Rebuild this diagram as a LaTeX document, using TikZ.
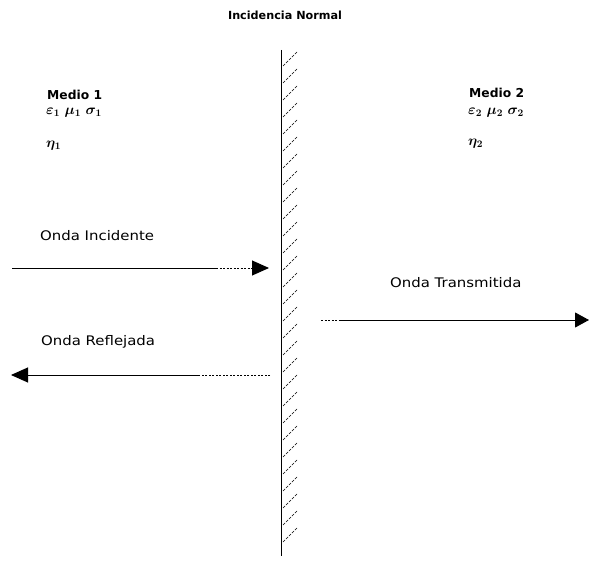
\documentclass[tikz,border=0pt]{standalone}
\usepackage{fontspec}
\setsansfont{DejaVu Sans}
\newfontfamily\widesans[FakeStretch=1.13]{DejaVu Sans}
\usetikzlibrary{arrows.meta}
\tikzset{
  lbl/.style={font=\widesans\fontsize{13.2}{15}\selectfont, inner sep=0pt, anchor=west},
  lblb/.style={font=\sffamily\bfseries\fontsize{12.3}{14}\selectfont, inner sep=0pt, anchor=west},
  greek/.style={font=\boldmath\fontsize{14.5}{16}\selectfont, inner sep=0pt, anchor=west},
  wave/.style={line width=0.9pt},
  fade/.style={line width=0.9pt, dash pattern=on 2pt off 1.5pt},
  tip/.style={-{Triangle[length=17pt,width=15pt]}},
  wall/.style={line width=1pt},
  hatch/.style={line width=0.5pt, dash pattern=on 3pt off 1.2pt}
}
\begin{document}
\begin{tikzpicture}[x=1pt,y=-1pt]
\useasboundingbox (0,0) rectangle (589,561);
% title
\node[font=\sffamily\bfseries\fontsize{11.2}{13}\selectfont, inner sep=0pt] (title) at (285,15) {Incidencia Normal};
% wall
\coordinate (wtop) at (281,50);
\coordinate (wbot) at (281,556);
\draw[wall] (wtop) -- (wbot);
\foreach \y in {52,69,...,540} {
  \draw[hatch] (283,\y+14) -- (297,\y);
}
% medium 1
\node[lblb] (m1) at (47,95) {Medio 1};
\node[greek] (p1) at (46,113) {$\varepsilon_1\;\mu_1\;\sigma_1$};
\node[greek] (eta1) at (46,146) {$\eta_1$};
% medium 2
\node[lblb] (m2) at (469,93) {Medio 2};
\node[greek] (p2) at (468,113) {$\varepsilon_2\;\mu_2\;\sigma_2$};
\node[greek] (eta2) at (468,144) {$\eta_2$};
% incident
\node[lbl] (linc) at (40,236) {Onda Incidente};
\coordinate (i0) at (12,268);
\coordinate (i1) at (216,268);
\coordinate (i2) at (269,268);
\draw[wave] (i0) -- (i1);
\draw[fade,tip] (i1) -- (i2);
% reflected
\node[lbl] (lref) at (41,342) {Onda Reflejada};
\coordinate (r0) at (270,375);
\coordinate (r1) at (200,375);
\coordinate (r2) at (11,375);
\draw[fade] (r0) -- (r1);
\draw[wave,tip] (r1) -- (r2);
% transmitted
\node[lbl] (ltr) at (390,283) {Onda Transmitida};
\coordinate (t0) at (321,320);
\coordinate (t1) at (339,320);
\coordinate (t2) at (589,320);
\draw[fade] (t0) -- (t1);
\draw[wave,-{Triangle[length=14pt,width=15pt]}] (t1) -- (t2);
\end{tikzpicture}
\end{document}
